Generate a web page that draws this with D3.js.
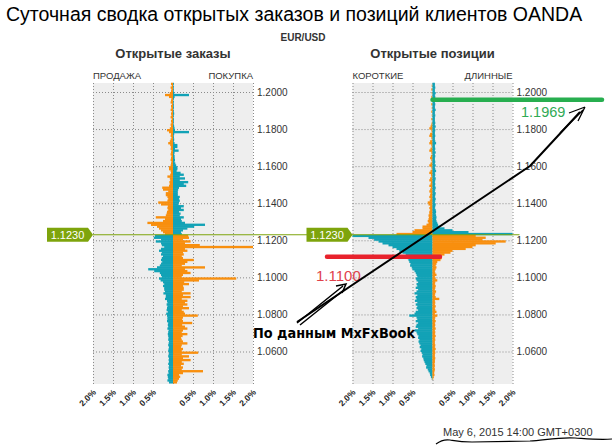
<!DOCTYPE html>
<html><head><meta charset="utf-8">
<script src="https://cdn.jsdelivr.net/npm/d3@7"></script>
<style>
body{margin:0;background:#fff;}
svg{display:block;font-family:"Liberation Sans",Arial,sans-serif;}
</style></head><body>
<svg id="c" width="612" height="447"></svg>
<script>
// ---- data ----
const pair = "EUR/USD";
const currentPrice = 1.1230;
const priceTop = 1.204;      // lower bound of the top price bucket
const priceStep = 0.001;     // bucket size
const yTickValues = [1.20, 1.18, 1.16, 1.14, 1.12, 1.10, 1.08, 1.06];
const xTickValues = [-2, -1.5, -1, -0.5, 0.5, 1, 1.5, 2];
const markerShort = 1.1100;  // red annotation
const markerLong = 1.1969;   // green annotation

// Open orders: % at left (sell) and right (buy), from top bucket down
const ordersLeft = [
 0.05,0.03,0.06,0.04,0.05,0.08,0.20,0.10,0.04,0.05,
 0.06,0.03,0.05,0.04,0.06,0.03,0.05,0.04,0.06,0.03,
 0.05,0.04,0.06,0.05,0.08,0.15,0.10,0.05,0.06,0.04,
 0.06,0.08,0.12,0.07,0.05,0.06,0.04,0.05,0.06,0.04,
 0.05,0.06,0.04,0.05,0.06,0.10,0.10,0.06,0.05,0.07,
 0.14,0.08,0.07,0.09,0.08,0.10,0.27,0.25,0.12,0.18,
 0.18,0.14,0.12,0.14,0.37,0.30,0.13,0.14,0.12,0.15,
 0.16,0.18,0.43,0.20,0.25,0.64,0.55,0.40,0.35,0.30,0.25,0.20,
 0.45,0.48,0.30,0.43,0.30,0.28,0.22,0.30,
 0.35,0.28,0.30,0.25,0.28,0.30,0.27,0.30,0.33,0.40,
 0.62,0.47,0.33,0.30,0.28,0.35,0.31,0.25,0.22,0.25,
 0.22,0.22,0.20,0.24,0.18,0.18,0.20,0.15,0.14,0.16,
 0.14,0.15,0.16,0.13,0.17,0.15,0.14,0.14,0.15,0.12,
 0.13,0.12,0.14,0.11,0.12,0.13,0.12,0.11,0.12,0.10,
 0.11,0.12,0.10,0.11,0.12,0.10,0.11,0.12,0.10,0.11,
 0.10,0.12,0.10,0.11,0.10,0.12,0.11,0.14,0.13,0.12,0.14,0.10
];
const ordersRight = [
 0.02,0.01,0.02,0.01,0.02,0.03,0.40,0.04,0.02,0.01,
 0.02,0.01,0.02,0.02,0.01,0.02,0.03,0.02,0.01,0.02,
 0.02,0.01,0.02,0.03,0.04,0.05,0.40,0.03,0.02,0.02,
 0.03,0.02,0.04,0.11,0.11,0.05,0.14,0.04,0.03,0.04,
 0.04,0.05,0.04,0.06,0.08,0.11,0.11,0.09,0.19,0.27,
 0.17,0.30,0.17,0.38,0.27,0.33,0.15,0.13,0.12,0.12,
 0.12,0.17,0.15,0.17,0.15,0.14,0.27,0.20,0.27,0.15,
 0.19,0.17,0.27,0.20,0.22,0.30,0.80,0.53,0.36,0.25,0.20,0.22,
 0.38,0.40,0.25,0.44,0.30,0.67,2.00,0.30,
 0.36,0.25,0.27,0.22,0.25,0.52,0.36,0.30,0.22,0.80,
 0.30,0.36,0.44,0.25,0.22,1.58,0.65,0.28,0.40,0.25,
 0.27,0.27,0.22,0.44,0.25,0.44,0.22,0.36,0.30,0.36,
 0.25,0.40,0.22,0.27,0.30,0.62,0.25,0.23,0.25,0.48,
 0.23,0.30,0.36,0.25,0.22,0.36,0.24,0.20,0.22,0.25,
 0.36,0.22,0.20,0.25,0.22,0.63,0.22,0.40,0.25,0.44,
 0.22,0.27,0.20,0.25,0.22,0.75,0.25,0.15,0.18,0.15,0.12,0.10
];
// Open positions: % short (left) and long (right)
const positionsLeft = [
 0,0.02,0,0.03,0,0.02,0,0.03,0,0.02,
 0,0.03,0,0.02,0,0.03,0,0.02,0,0.03,
 0,0.02,0.03,0.05,0.08,0.03,0.02,0.06,0.08,0.03,
 0.02,0.06,0.08,0.03,0.02,0.05,0.08,0.03,0.02,0.04,
 0.06,0.03,0.02,0.05,0.08,0.03,0.02,0.05,0.08,0.04,
 0.03,0.06,0.08,0.04,0.05,0.08,0.04,0.06,0.08,0.05,
 0.06,0.08,0.05,0.07,0.12,0.10,0.06,0.08,0.06,0.08,
 0.08,0.10,0.09,0.10,0.12,0.10,0.15,0.25,0.25,0.45,0.50,0.90,
 2.00,1.60,1.46,1.35,1.25,1.10,1.00,0.90,
 0.83,0.75,0.67,0.65,0.62,0.60,0.58,0.55,0.56,0.52,
 0.50,0.45,0.42,0.40,0.38,0.42,0.40,0.36,0.40,0.38,
 0.42,0.36,0.40,0.45,0.38,0.42,0.40,0.44,0.38,0.42,
 0.38,0.40,0.36,0.42,0.45,0.58,0.40,0.38,0.42,0.36,
 0.40,0.42,0.36,0.45,0.40,0.38,0.35,0.36,0.33,0.35,
 0.33,0.30,0.32,0.28,0.30,0.27,0.25,0.26,0.23,0.22,
 0.20,0.18,0.15,0.16,0.12,0.10,0.07,0.06,0.04,0.02,0,0
];
const positionsRight = [
 0.06,0.06,0.07,0.06,0.06,0.08,0.06,0.07,0.06,0.06,
 0.06,0.07,0.06,0.06,0.08,0.06,0.06,0.07,0.06,0.06,
 0.06,0.07,0.06,0.08,0.06,0.07,0.06,0.06,0.07,0.06,
 0.06,0.07,0.09,0.06,0.06,0.07,0.06,0.08,0.06,0.07,
 0.06,0.06,0.07,0.06,0.08,0.06,0.07,0.09,0.06,0.07,
 0.06,0.08,0.07,0.06,0.07,0.06,0.08,0.07,0.06,0.08,
 0.07,0.06,0.08,0.07,0.06,0.08,0.07,0.06,0.08,0.09,
 0.08,0.09,0.10,0.09,0.10,0.12,0.14,0.15,0.30,0.50,0.90,2.00,
 1.08,1.33,1.25,1.83,1.58,1.08,1.00,0.83,
 0.50,0.45,0.30,0.22,0.23,0.20,0.12,0.10,0.08,0.10,
 0.08,0.06,0.07,0.10,0.06,0.08,0.12,0.07,0.06,0.08,
 0.07,0.06,0.09,0.07,0.06,0.08,0.17,0.06,0.07,0.06,
 0.08,0.06,0.07,0.10,0.06,0.12,0.07,0.06,0.08,0.06,
 0.07,0.06,0.08,0.06,0.07,0.06,0.08,0.06,0.07,0.06,
 0.06,0.07,0.06,0.08,0.06,0.07,0.06,0.06,0.07,0.06,
 0.06,0.05,0.06,0.05,0.06,0.05,0.04,0.05,0.03,0.02,0,0
];

// ---- drawing ----
const ORANGE = "#f88f0e", TEAL = "#12a2b6", PRICEGREEN = "#7ea40c";
const svg = d3.select("#c");
const y = d3.scaleLinear().domain([1.20, 1.06]).range([92, 351.5]);
const plotTop = 83, plotBottom = 384;

svg.append("text").attr("x", 6).attr("y", 21).attr("font-size", 19.5).attr("fill", "#000")
  .text("Суточная сводка открытых заказов и позиций клиентов OANDA");
svg.append("text").attr("x", 303).attr("y", 41).attr("text-anchor", "middle")
  .attr("font-size", 10).attr("font-weight", "bold").attr("fill", "#333").text(pair);

function panel(range, title, leftLbl, rightLbl, leftVals, rightVals) {
  const x = d3.scaleLinear().domain([-2, 2]).range(range);
  const g = svg.append("g");
  g.append("rect").attr("x", x(-2)).attr("y", plotTop).attr("width", x(2) - x(-2))
    .attr("height", plotBottom - plotTop).attr("fill", "#eeeeee");
  // grid
  const gx = g.append("g").attr("transform", `translate(0,${plotBottom})`)
    .call(d3.axisBottom(x).tickValues(d3.range(-2, 2.01, 0.5)).tickSize(-(plotBottom - plotTop)).tickFormat(""));
  gx.select(".domain").remove();
  gx.selectAll("line").attr("stroke", "#8a8a8a").attr("stroke-dasharray", "1,2");
  const gy = g.append("g").attr("transform", `translate(${x(-2)},0)`)
    .call(d3.axisLeft(y).tickValues(yTickValues).tickSize(-(x(2) - x(-2))).tickFormat(""));
  gy.select(".domain").remove();
  gy.selectAll("line").attr("stroke", "#8a8a8a").attr("stroke-dasharray", "1,2");
  // bars
  const rows = leftVals.map((v, i) => {
    const p = priceTop - i * priceStep;
    return {p, l: Math.min(v, 2), r: Math.min(rightVals[i], 2), above: p >= currentPrice - 1e-9};
  });
  const bh = d => y(d.p) - y(d.p + priceStep) + 0.5;
  g.selectAll("rect.l").data(rows.filter(d => d.l > 0)).join("rect")
    .attr("x", d => x(-d.l)).attr("y", d => y(d.p + priceStep))
    .attr("width", d => x(0) - x(-d.l)).attr("height", bh)
    .attr("fill", d => d.above ? ORANGE : TEAL);
  g.selectAll("rect.r").data(rows.filter(d => d.r > 0)).join("rect")
    .attr("x", x(0)).attr("y", d => y(d.p + priceStep))
    .attr("width", d => x(d.r) - x(0)).attr("height", bh)
    .attr("fill", d => d.above ? TEAL : ORANGE);
  // x labels
  const ax = g.append("g").attr("transform", `translate(0,${plotBottom})`)
    .call(d3.axisBottom(x).tickValues(xTickValues).tickSize(0).tickFormat(d => d3.format(".1f")(Math.abs(d)) + "%"));
  ax.select(".domain").remove();
  ax.selectAll("text").attr("font-size", 8.5).attr("font-weight", "bold").attr("fill", "#222")
    .attr("text-anchor", "end").attr("dy", 0).attr("y", 0)
    .attr("transform", "translate(3,9) rotate(-45)");
  // y labels
  const ay = g.append("g").attr("transform", `translate(${x(2) + 3},0)`)
    .call(d3.axisRight(y).tickValues(yTickValues).tickSize(0).tickFormat(d3.format(".4f")));
  ay.select(".domain").remove();
  ay.selectAll("text").attr("font-size", 10).attr("fill", "#333").attr("x", 1);
  // headers
  svg.append("text").attr("x", x(0)).attr("y", 58).attr("text-anchor", "middle")
    .attr("font-size", 13).attr("font-weight", "bold").attr("fill", "#333").text(title);
  svg.append("text").attr("x", x(-2)).attr("y", 79).attr("font-size", 9.5).attr("fill", "#333").text(leftLbl);
  svg.append("text").attr("x", x(2)).attr("y", 79).attr("text-anchor", "end").attr("font-size", 9.5).attr("fill", "#333").text(rightLbl);
  return x;
}
const xL = panel([93, 253], "Открытые заказы", "ПРОДАЖА", "ПОКУПКА", ordersLeft, ordersRight);
const xR = panel([352.5, 512.5], "Открытые позиции", "КОРОТКИЕ", "ДЛИННЫЕ", positionsLeft, positionsRight);

// current price line and labels
const yp = y(currentPrice);
svg.append("line").attr("x1", xL(-2)).attr("x2", xR(2) + 7).attr("y1", yp).attr("y2", yp)
  .attr("stroke", PRICEGREEN).attr("stroke-width", 1.2);
function priceTag(xTip) {
  const w = 41, h = 14;
  svg.append("path").attr("d", `M${xTip - w - 5},${yp - h / 2} h${w} l5,${h / 2} l-5,${h / 2} h${-w} z`).attr("fill", PRICEGREEN);
  svg.append("text").attr("x", xTip - 5 - w / 2).attr("y", yp + 4).attr("text-anchor", "middle")
    .attr("font-size", 11).attr("fill", "#fff").text(d3.format(".4f")(currentPrice));
}
priceTag(xL(-2));
priceTag(xR(-2));

// annotations
const yG = y(markerLong) + 2;
svg.append("line").attr("x1", xR(0)).attr("x2", 602).attr("y1", yG).attr("y2", yG)
  .attr("stroke", "#27ae4f").attr("stroke-width", 4.5).attr("stroke-linecap", "round");
svg.append("text").attr("x", 521).attr("y", 117).attr("font-size", 14.5).attr("fill", "#2faa55").text(d3.format(".4f")(markerLong));
const yRd = y(markerShort) - 2;
svg.append("line").attr("x1", 327).attr("x2", 440).attr("y1", yRd).attr("y2", yRd)
  .attr("stroke", "#e8222c").attr("stroke-width", 4.5).attr("stroke-linecap", "round");
svg.append("text").attr("x", 316).attr("y", 281).attr("font-size", 15).attr("fill", "#e0414a").text(d3.format(".4f")(markerShort));

svg.append("path").attr("d", "M297,322 L530,166 L580,112")
  .attr("stroke", "#000").attr("stroke-width", 2).attr("fill", "none").attr("stroke-linejoin", "round");
svg.append("path").attr("d", "M585,107 L569,113 M585,107 L578,121 M560,133 L583,110").attr("stroke", "#000").attr("stroke-width", 1.3).attr("fill", "none");
svg.append("path").attr("d", "M297,323 L343,286 M300,325 L345,289 M336,286 L346,284 L342,293")
  .attr("stroke", "#000").attr("stroke-width", 1.5).attr("fill", "none");
svg.append("text").attr("x", 253).attr("y", 338).attr("font-size", 13.5).attr("font-weight", "bold")
  .attr("font-family", "DejaVu Sans, sans-serif").attr("textLength", 162).attr("lengthAdjust", "spacingAndGlyphs")
  .attr("fill", "#000").text("По данным MxFxBook");

svg.append("text").attr("x", 443).attr("y", 436).attr("font-size", 11).attr("fill", "#333").text("May 6, 2015 14:00 GMT+0300");
svg.append("path").attr("d", "M436,444 C440,441 444,439 450,440 S460,442 472,442 L530,441 C545,440 560,437 575,438 S600,440 612,439")
  .attr("stroke", "#000").attr("stroke-width", 1.2).attr("fill", "none");
</script>
</body></html>
